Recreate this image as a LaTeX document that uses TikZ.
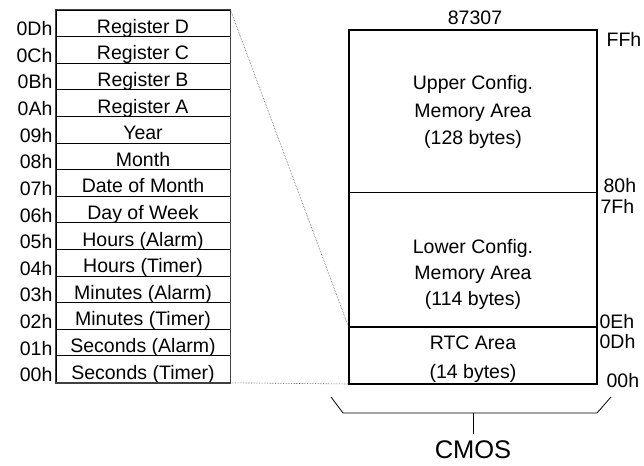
\documentclass[tikz,border=0pt]{standalone}
\usepackage{fontspec}
\setmainfont{Liberation Sans}
\usetikzlibrary{positioning, calc}

\tikzset{
  regrow/.style={draw, line width=0.8pt, minimum width=174pt, minimum height=26.6pt,
                 inner sep=0pt, text height=20pt, text depth=0pt,
                 font=\fontsize{19.5}{23}\selectfont},
  addr/.style={anchor=base east, inner sep=0pt, font=\fontsize{19.5}{23}\selectfont},
  area/.style={draw, line width=0.8pt, minimum width=248pt, inner sep=0pt},
  areatext/.style={align=center, inner sep=0pt, font=\fontsize{19.5}{27.5}\selectfont},
  bound/.style={anchor=base west, inner sep=0pt, font=\fontsize{19.5}{23}\selectfont},
  guide/.style={densely dotted, line width=0.6pt, black!70}
}

\begin{document}
\begin{tikzpicture}[x=1pt, y=-1pt]
    \useasboundingbox (0,0) rectangle (644,465);

    % RTC register table
    \foreach \reg/\adr [count=\i from 0] in {Register D/0Dh, Register C/0Ch, Register B/0Bh,
        Register A/0Ah, Year/09h, Month/08h, Date of Month/07h, Day of Week/06h,
        Hours (Alarm)/05h, Hours (Timer)/04h, Minutes (Alarm)/03h, Minutes (Timer)/02h,
        Seconds (Alarm)/01h, Seconds (Timer)/00h} {
        \node[regrow] (row\i) at (143, {23.3+26.6*\i}) {\reg};
        \node[addr] (adr\i) at ([xshift=-3pt, yshift=-12.5pt]row\i.west) {\adr};
    }
    \draw[line width=1.4pt, black!75] (row0.north west) rectangle (row13.south east);

    % CMOS map
    \node[area, minimum height=162pt] (upper) at (473,111) {};
    \node[area, minimum height=134pt, below=0pt of upper] (lower) {};
    \node[area, minimum height=56pt, below=0pt of lower] (rtc) {};
    \draw[line width=2pt] (upper.north west) rectangle (rtc.south east);

    \node[areatext] (uppertxt) at ([yshift=-1pt]upper.center) {Upper Config.\\Memory Area\\(128 bytes)};
    \node[areatext, font=\fontsize{19.5}{26}\selectfont] (lowertxt) at ([yshift=-15pt]lower.center) {Lower Config.\\Memory Area\\(114 bytes)};
    \node[areatext, font=\fontsize{19.5}{29}\selectfont] (rtctxt) at ([yshift=-3.5pt]rtc.center) {RTC Area\\(14 bytes)};

    \node[anchor=base, inner sep=0pt, font=\fontsize{19.5}{23}\selectfont] (chip) at ([xshift=2pt, yshift=5pt]upper.north) {87307};

    % address bounds
    \node[bound] (ffh) at ([xshift=9pt, yshift=-17pt]upper.north east) {FFh};
    \node[bound] (h80) at ([xshift=6pt]upper.south east) {80h};
    \node[bound] (h7f) at ([xshift=3pt, yshift=-21pt]lower.north east) {7Fh};
    \node[bound] (h0e) at ([xshift=2pt, yshift=-1pt]lower.south east) {0Eh};
    \node[bound] (h0d) at ([xshift=2pt, yshift=-21pt]rtc.north east) {0Dh};
    \node[bound] (h00) at ([xshift=9pt, yshift=-3pt]rtc.south east) {00h};

    % zoom lines
    \draw[guide] (row0.north east) -- (rtc.north west);
    \draw[guide] (row13.south east) -- (rtc.south west);

    % brace
    \coordinate (bl) at (331,397);
    \coordinate (br) at (611,397);
    \coordinate (bmid) at (473,413);
    \draw[line width=0.8pt] (bl) -- (343,413) -- (597,413) -- (br);
    \draw[line width=0.8pt] (bmid) -- ++(0,21) coordinate (btip);
    \node[anchor=base, inner sep=0pt, font=\fontsize{25.5}{30}\selectfont] (cmos) at ([yshift=-24pt]btip) {CMOS};
\end{tikzpicture}
\end{document}
